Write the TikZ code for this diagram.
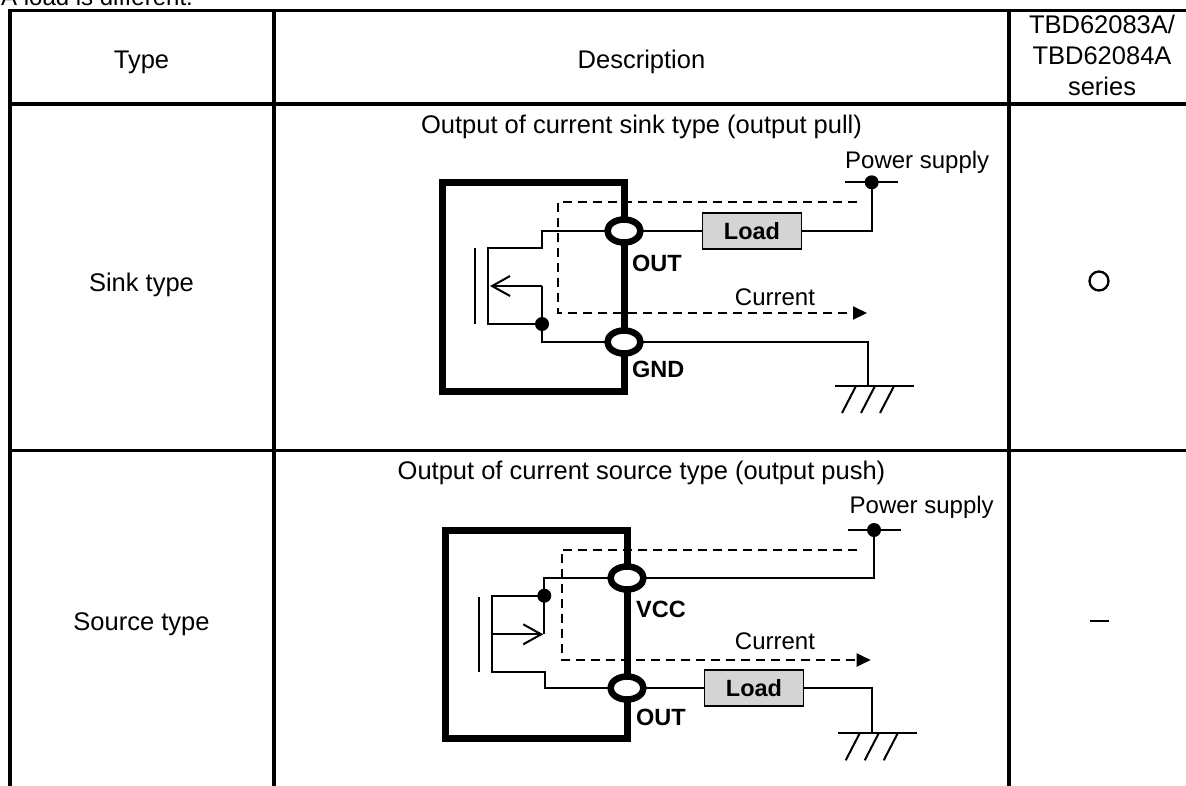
\documentclass[tikz,border=0pt]{standalone}
\usepackage{fontspec}
\setmainfont{Liberation Sans}
\usetikzlibrary{shapes.geometric,arrows.meta}
\pgfdeclarelayer{bg}
\pgfsetlayers{bg,main}
\begin{document}
\begin{tikzpicture}[x=1pt,y=-1pt,
  tline/.style={line width=4pt},
  wire/.style={line width=2pt},
  icbox/.style={line width=7pt},
  term/.style={ellipse,draw,line width=6.5pt,fill=white,minimum width=33pt,minimum height=23pt,inner sep=0pt},
  jdot/.style={circle,fill=black,minimum size=14pt,inner sep=0pt},
  loadbox/.style={draw,line width=1.8pt,fill=black!17,minimum width=99pt,minimum height=36pt,inner sep=0pt,font=\bfseries\fontsize{23.5}{27}\selectfont},
  flow/.style={line width=2pt,dash pattern=on 9pt off 6pt},
  big/.style={font=\fontsize{25.5}{30}\selectfont,inner sep=0pt,anchor=base},
  small/.style={font=\fontsize{24}{28}\selectfont,inner sep=0pt},
  pinlbl/.style={font=\bfseries\fontsize{23.5}{27}\selectfont,inner sep=0pt,anchor=base west},
  curr/.style={-{Triangle[length=14pt,width=13pt]}},
  fet/.style={-{Straight Barb[length=18pt,width=20pt]}}
]
\useasboundingbox (0,0) rectangle (1186,785);

% cut-off line above the table
\node[font=\fontsize{24}{28}\selectfont,inner sep=0pt,anchor=base west] (note) at (1,5.5) {A load is different.};

% ---------------- table ----------------
\draw[line width=3.5pt] (7.5,10.5) -- (1200,10.5);
\draw[tline] (9.5,8.75) -- (9.5,800);
\draw[tline] (274,8.75) -- (274,800);
\draw[tline] (1009,8.75) -- (1009,800);
\draw[tline] (7.5,104) -- (1200,104);
\draw[line width=3pt] (7.5,450) -- (1200,450);

\node[big] (hType) at (141.5,68.5) {Type};
\node[big] (hDesc) at (641.5,68.5) {Description};
\node[font=\fontsize{25.5}{31}\selectfont,align=center,inner sep=0pt] (hSer) at (1102,55) {TBD62083A/\\TBD62084A\\series};

\node[big] (tSink) at (641.5,133) {Output of current sink type (output pull)};
\node[big] (rSink) at (141.5,291) {Sink type};
\node[draw,circle,line width=2.3pt,minimum size=19pt,inner sep=0pt] (mSink) at (1099,281) {};

\node[big] (tSrc) at (641.5,479) {Output of current source type (output push)};
\node[big] (rSrc) at (141.5,630.5) {Source type};
\coordinate (mSrcL) at (1089.5,621);
\coordinate (mSrcR) at (1108.5,621);
\draw[line width=2.2pt] (mSrcL) -- (mSrcR);

% ---------------- sink circuit ----------------
\node[term] (sOut) at (624,231) {};
\node[term] (sGnd) at (624,342) {};
\node[pinlbl] (sOutL) at (632,271.5) {OUT};
\node[pinlbl] (sGndL) at (632,377.5) {GND};
\node[loadbox] (sLoad) at (752,231) {Load};
\node[jdot] (sPwr) at (871.7,182.3) {};
\node[jdot] (sJ) at (542,324) {};
\node[small,anchor=base west] (sPwrL) at (845,168) {Power supply};
\node[small,anchor=base] (sCurL) at (775,305.5) {Current};
\coordinate (sBoxA) at (442,182);
\coordinate (sBoxB) at (624,391);
\coordinate (sPs1) at (845,182.3);
\coordinate (sPs2) at (898,182.3);
\coordinate (sFlA) at (857,202);
\coordinate (sFlB) at (558,202);
\coordinate (sFlC) at (558,313);
\coordinate (sFlD) at (867,313);
\coordinate (sGround) at (868,386);
\coordinate (sGate1) at (475,248);
\coordinate (sGate2) at (475,324);
\coordinate (sArr) at (542,286);
\coordinate (sArrTip) at (490,286);

\begin{pgfonlayer}{bg}
\draw[icbox] (sBoxA) rectangle (sBoxB);
\draw[wire] (sOut.center) -- (542,231) -- (542,248) -- (488,248) -- (488,324) -- (sJ.center);
\draw[wire,fet] (sArr) -- (sArrTip);
\draw[wire] (sArr) -- (542,342) -- (sGnd.center);
\draw[wire] (sGate1) -- (sGate2);
\draw[wire] (sOut.center) -- (sLoad.west);
\draw[wire] (sLoad.east) -| (sPwr.center);
\draw[wire] (sPs1) -- (sPs2);
\draw[wire] (sGnd.center) -| (sGround);
\draw[wire] (sGround) ++(-33,0) -- ++(79,0);
\draw[wire] (sGround) ++(-12,0) -- ++(-14,27);
\draw[wire] (sGround) ++(7,0) -- ++(-14,27);
\draw[wire] (sGround) ++(26,0) -- ++(-14,27);
\draw[flow,curr] (sFlA) -- (sFlB) -- (sFlC) -- (sFlD);
\end{pgfonlayer}

% ---------------- source circuit ----------------
\node[term] (cVcc) at (627,578) {};
\node[term] (cOut) at (627,688) {};
\node[pinlbl] (cVccL) at (636,617.5) {VCC};
\node[pinlbl] (cOutL) at (636,725.5) {OUT};
\node[loadbox] (cLoad) at (754,688) {Load};
\node[jdot] (cPwr) at (874,530) {};
\node[jdot] (cJ) at (544.3,595.7) {};
\node[small,anchor=base west] (cPwrL) at (849.5,513) {Power supply};
\node[small,anchor=base] (cCurL) at (775,649.5) {Current};
\coordinate (cBoxA) at (445.5,530);
\coordinate (cBoxB) at (627,738);
\coordinate (cPs1) at (848.3,530);
\coordinate (cPs2) at (901,530);
\coordinate (cFlA) at (857.3,550);
\coordinate (cFlB) at (561.7,550);
\coordinate (cFlC) at (561.7,660);
\coordinate (cFlD) at (870.7,660);
\coordinate (cGround) at (871.7,733.3);
\coordinate (cGate1) at (479,596.7);
\coordinate (cGate2) at (479,672.3);
\coordinate (cArr) at (491.7,634.3);
\coordinate (cArrTip) at (543.3,634.3);

\begin{pgfonlayer}{bg}
\draw[icbox] (cBoxA) rectangle (cBoxB);
\draw[wire] (cVcc.center) -- (544.3,578) -- (cJ.center);
\draw[wire] (cJ.center) -- (491.7,595.7) -- (491.7,671.7) -- (545,671.7) -- (545,688) -- (cOut.center);
\draw[wire,fet] (cArr) -- (cArrTip);
\draw[wire] (cJ.center) -- (544.3,634.3);
\draw[wire] (cGate1) -- (cGate2);
\draw[wire] (cVcc.center) -| (cPwr.center);
\draw[wire] (cPs1) -- (cPs2);
\draw[wire] (cOut.center) -- (cLoad.west);
\draw[wire] (cLoad.east) -| (cGround);
\draw[wire] (cGround) ++(-33.4,0) -- ++(79,0);
\draw[wire] (cGround) ++(-12,0) -- ++(-14,27);
\draw[wire] (cGround) ++(7,0) -- ++(-14,27);
\draw[wire] (cGround) ++(26,0) -- ++(-14,27);
\draw[flow,curr] (cFlA) -- (cFlB) -- (cFlC) -- (cFlD);
\end{pgfonlayer}
\end{tikzpicture}
\end{document}
